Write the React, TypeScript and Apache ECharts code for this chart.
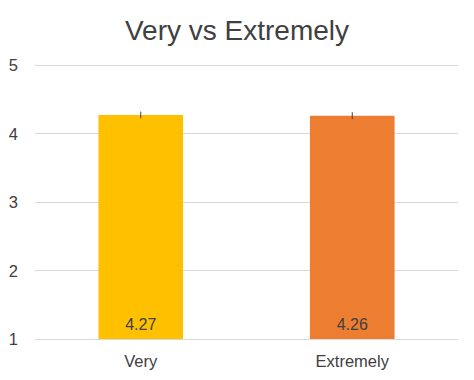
import React, { useEffect, useRef } from "react";
import * as echarts from "echarts";

const categories = ["Very", "Extremely"];
const values = [4.27, 4.26];
const errors = [0.05, 0.05];
const colors = ["#FFC000", "#ED7D31"];
const yTicks = [1, 2, 3, 4, 5];

const FONT = "Liberation Sans, Arial, sans-serif";

export default function App() {
  const ref = useRef<HTMLDivElement>(null);
  useEffect(() => {
    if (!ref.current) return;
    const chart = echarts.init(ref.current, null, { renderer: "svg" });
    chart.setOption({
      animation: false,
      backgroundColor: "#ffffff",
      title: {
        text: "Very vs Extremely",
        left: "center",
        top: 11,
        textStyle: { fontFamily: FONT, fontSize: 28, fontWeight: "normal", color: "#404040" },
      },
      grid: { left: 35, right: 16, top: 65, bottom: 41 },
      xAxis: {
        type: "category",
        data: categories,
        axisTick: { show: false },
        axisLine: { lineStyle: { color: "#d9d9d9", width: 1 } },
        axisLabel: { fontFamily: FONT, fontSize: 16.5, color: "#404040", margin: 13 },
      },
      yAxis: {
        type: "value",
        min: yTicks[0],
        max: yTicks[yTicks.length - 1],
        interval: 1,
        axisLine: { show: false },
        axisTick: { show: false },
        splitLine: { lineStyle: { color: "#d9d9d9", width: 1 } },
        axisLabel: { fontFamily: FONT, fontSize: 16.5, color: "#404040", margin: 17 },
      },
      series: [
        {
          type: "bar",
          barWidth: "40%",
          data: values.map((v, i) => ({ value: v, itemStyle: { color: colors[i] } })),
          label: {
            show: true,
            position: "insideBottom",
            distance: 7,
            fontFamily: FONT,
            fontSize: 16,
            color: "#404040",
            formatter: (p: any) => p.value.toFixed(2),
          },
        },
        {
          type: "custom",
          data: values.map((v, i) => [i, v - errors[i], v + errors[i]]),
          renderItem: (params: any, api: any) => {
            const x = api.value(0);
            const lo = api.coord([x, api.value(1)]);
            const hi = api.coord([x, api.value(2)]);
            return {
              type: "line",
              shape: { x1: lo[0], y1: lo[1], x2: hi[0], y2: hi[1] },
              style: { stroke: "#404040", lineWidth: 1 },
            };
          },
          z: 10,
        },
      ],
    });
    return () => chart.dispose();
  }, []);
  return <div ref={ref} style={{ position: "fixed", left: 0, top: 0, width: 474, height: 380 }} />;
}
